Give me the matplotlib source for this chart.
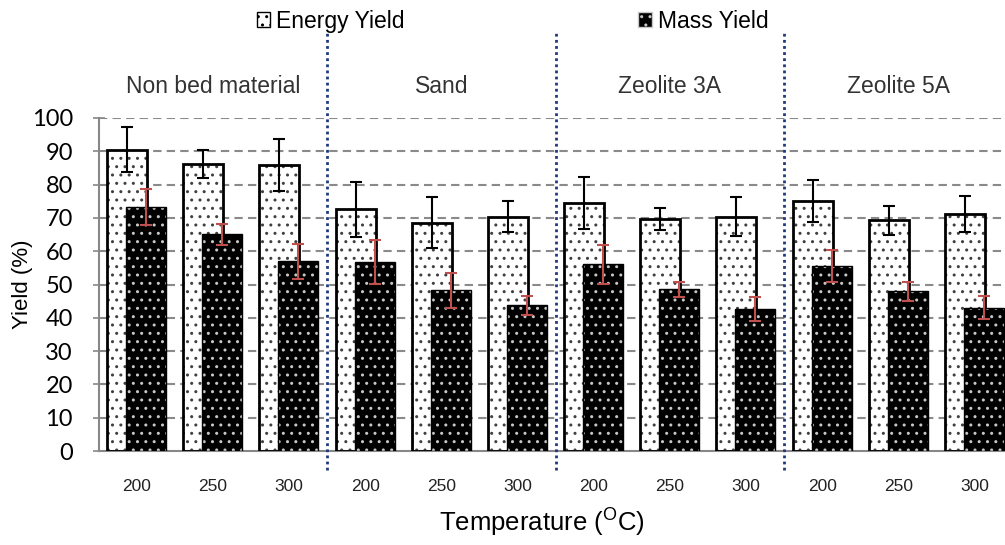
import matplotlib
matplotlib.use("Agg")
import matplotlib.pyplot as plt
import matplotlib.patches as mpatches
import numpy as np

plt.rcParams["font.family"] = ["Liberation Sans", "DejaVu Sans"]
plt.rcParams["hatch.linewidth"] = 1.0

# data
groups = ["Non bed material", "Sand", "Zeolite 3A", "Zeolite 5A"]
temps = ["200", "250", "300"]
energy = [90.5, 86.2, 86.0, 72.6, 68.6, 70.4, 74.4, 69.6, 70.4, 75.0, 69.3, 71.2]
energy_err = [6.7, 4.2, 7.8, 8.3, 7.6, 4.6, 7.8, 3.3, 5.8, 6.3, 4.3, 5.5]
mass = [73.3, 65.1, 57.0, 56.8, 48.3, 43.7, 56.1, 48.5, 42.7, 55.6, 47.9, 43.0]
mass_err = [5.4, 3.2, 5.2, 6.5, 5.3, 2.9, 5.9, 2.3, 3.6, 4.8, 3.0, 3.4]

x = np.arange(len(energy))
w = 0.525
off = 0.125

fig = plt.figure(figsize=(10.05, 5.45), dpi=100)
ax = fig.add_axes([98.5 / 1005, 1 - 451 / 545, 914 / 1005, 333 / 545])

# energy bars: white with dark dots
ax.bar(x - off, energy, w, color="white", edgecolor="#404040", hatch="..", linewidth=0, zorder=2)
ax.bar(x - off, energy, w, fill=False, edgecolor="black", linewidth=2, zorder=3)
# mass bars: black with light dots
ax.bar(x + off, mass, w, color="black", edgecolor="#c8c8c8", hatch="..", linewidth=0, zorder=4)
ax.bar(x + off, mass, w, fill=False, edgecolor="black", linewidth=1, zorder=5)

ax.errorbar(x - off, energy, yerr=energy_err, fmt="none", ecolor="black",
            elinewidth=1.5, capsize=4.5, capthick=1.5, zorder=6)
ax.errorbar(x + off, mass, yerr=mass_err, fmt="none", ecolor="#c0504d",
            elinewidth=1.5, capsize=4.5, capthick=1.5, zorder=7)

ax.set_xlim(-0.5, 11.5)
ax.set_ylim(0, 100)
ax.set_yticks(range(0, 101, 10))
ax.set_yticklabels([str(v) for v in range(0, 101, 10)], fontsize=17, family=["Lato", "DejaVu Sans"])
ax.set_xticks(x)
ax.set_xticklabels(temps * 4, fontsize=12.5, color="#222222")
ax.tick_params(axis="x", length=0, pad=20)
ax.tick_params(axis="y", direction="inout", length=9, width=1.2, color="#888888", pad=14)

for v in range(10, 101, 10):
    ax.axhline(v, color="#8a8a8a", lw=1.5, ls=(0, (4, 2.5)), zorder=1)

for s in ["top", "right"]:
    ax.spines[s].set_visible(False)
for s in ["left", "bottom"]:
    ax.spines[s].set_color("#888888")
    ax.spines[s].set_linewidth(1.5)

# group separators and labels
for b in [2.5, 5.5, 8.5]:
    ax.plot([b, b], [-5.8, 125.8], color="#1f3a7a", lw=2, ls=(0, (1, 1.2)), clip_on=False, zorder=8)
for i, g in enumerate(groups):
    ax.text(3 * i + 1, 109.5, g, ha="center", va="center", fontsize=16.5, color="#333333")

ax.set_ylabel("Yield (%)", fontsize=16)
ax.yaxis.set_label_coords((33 - 98.5) / 914, 0.5)
ax.set_xlabel("Temperature ($\\mathregular{^{O}}$C)", fontsize=18.5)
ax.xaxis.set_label_coords((542 - 98.5) / 914, -0.168)

h1 = mpatches.Patch(facecolor="white", edgecolor="black", hatch="..", linewidth=1)
h2 = mpatches.Patch(facecolor="black", edgecolor="#c8c8c8", hatch="..", linewidth=1)
fig.legend([h1, h2], ["Energy Yield", "Mass Yield"], loc="upper center",
           bbox_to_anchor=(0.51, 1.02), ncol=2, frameon=False, fontsize=16.5,
           handlelength=0.6, handleheight=0.6, handletextpad=0.25, columnspacing=10.2)

fig.savefig("out.png", dpi=100, facecolor="white")
